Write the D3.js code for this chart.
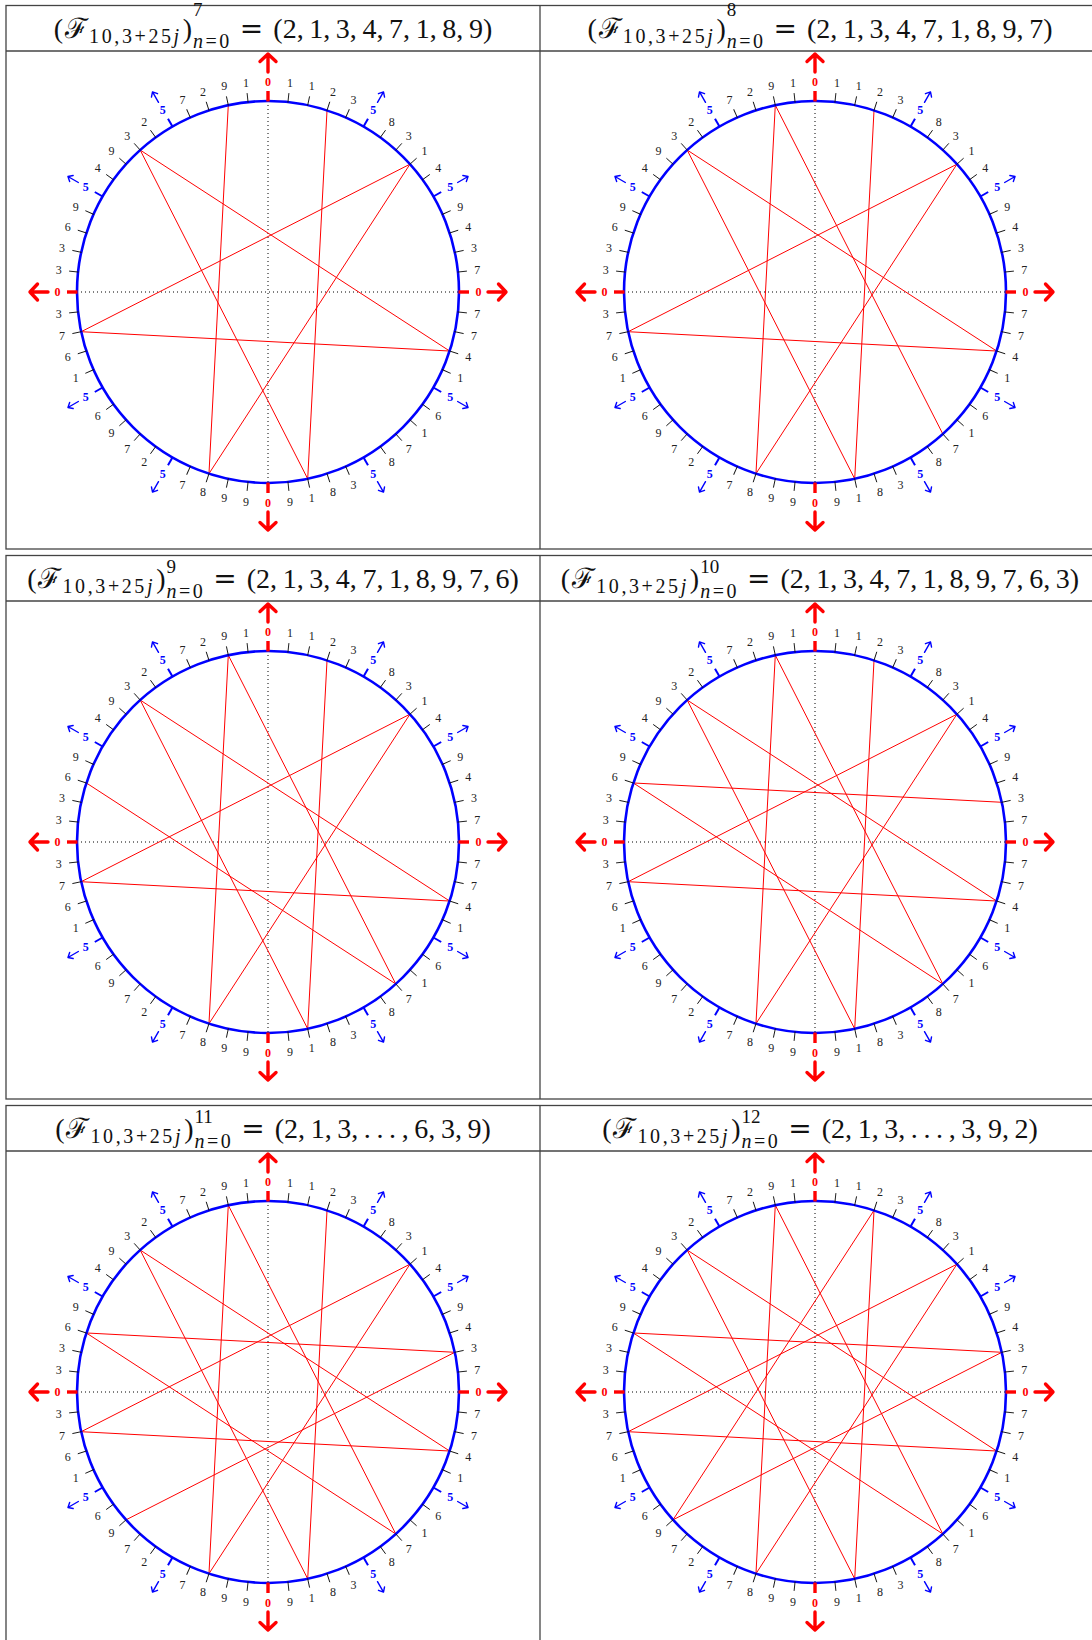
<!DOCTYPE html>
<html>
<head>
<meta charset="utf-8">
<script src="https://cdn.jsdelivr.net/npm/d3@7"></script>
<style>
  body { margin: 0; background: #fff; }
  svg { display: block; }
</style>
</head>
<body>
<div id="chart"></div>
<script>
// Fibonacci numbers mod 10 over one Pisano period (60), clockwise from the top
const tickLabels = [0, 1, 1, 2, 3, 5, 8, 3, 1, 4, 5, 9, 4, 3, 7, 0, 7, 7, 4, 1,
                    5, 6, 1, 7, 8, 5, 3, 8, 1, 9, 0, 9, 9, 8, 7, 5, 2, 7, 9, 6,
                    5, 1, 6, 7, 3, 0, 3, 3, 6, 9, 5, 4, 9, 3, 2, 5, 7, 2, 9, 1];
// positions 3 + 25j (mod 60) visited for j = 0..12
const walkIndex = [3, 28, 53, 18, 43, 8, 33, 58, 23, 48, 13, 38, 3];
// upper bound n of each panel
const panelN = [7, 8, 9, 10, 11, 12];
// right hand side of each title
const panelValues = [
    "(2,\u20091,\u20093,\u20094,\u20097,\u20091,\u20098,\u20099)",
    "(2,\u20091,\u20093,\u20094,\u20097,\u20091,\u20098,\u20099,\u20097)",
    "(2,\u20091,\u20093,\u20094,\u20097,\u20091,\u20098,\u20099,\u20097,\u20096)",
    "(2,\u20091,\u20093,\u20094,\u20097,\u20091,\u20098,\u20099,\u20097,\u20096,\u20093)",
    "(2,\u20091,\u20093,\u2009.\u2009.\u2009.\u2009,\u20096,\u20093,\u20099)",
    "(2,\u20091,\u20093,\u2009.\u2009.\u2009.\u2009,\u20093,\u20099,\u20092)"
];

const W = 1092, H = 1640;
const colX = [6, 540, 1100];
const rowTop0 = 5.5, rowStep = 550, titleH = 45.5, panelH = 498;
const R = 191;
const serif = "'Liberation Serif', 'DejaVu Serif', serif";

const svg = d3.select("#chart").append("svg")
    .attr("width", W)
    .attr("height", H);

// angle of every position on the circle (0 at the top, clockwise)
const angle = d3.scaleLinear()
    .domain([0, tickLabels.length])
    .range([0, 2 * Math.PI]);

// table frame, one box per row
for (let r = 0; r < 3; r++) {
    const top = rowTop0 + r * rowStep;
    const box = svg.append("g")
        .attr("fill", "none")
        .attr("stroke", "#444")
        .attr("stroke-width", 1.3);
    box.append("rect")
        .attr("x", colX[0]).attr("y", top)
        .attr("width", colX[2] - colX[0]).attr("height", titleH + panelH);
    box.append("line")
        .attr("x1", colX[0]).attr("x2", colX[2])
        .attr("y1", top + titleH).attr("y2", top + titleH);
    box.append("line")
        .attr("x1", colX[1]).attr("x2", colX[1])
        .attr("y1", top).attr("y2", top + titleH + panelH);
}

// title: (F_{10,3+25j})^{n}_{n=0} = (...)
function drawTitle(cx, baseline, n, values, supDy) {
    const g = svg.append("g").attr("font-family", serif).attr("fill", "#111");
    let x = 0;
    const piece = (parts, size, dy, ls) => {
        const t = g.append("text").attr("x", x).attr("y", baseline + dy)
            .attr("font-size", size)
            .attr("letter-spacing", ls || null);
        parts.forEach(p => t.append("tspan")
            .attr("font-style", p.it ? "italic" : null)
            .attr("font-family", p.ff || null)
            .text(p.s));
        return t.node().getComputedTextLength();
    };
    x += piece([{ s: "(" }], 28, 0) + 2;
    x += piece([{ s: "\u2131", ff: "'DejaVu Serif', serif" }], 28, 0) + 1;
    x += piece([{ s: "10,3+25" }, { s: "j", it: true }], 20, 5.5, 2.6) + 1;
    x += piece([{ s: ")" }], 28, 0) + 1;
    const w1 = piece([{ s: String(n) }], 19, supDy);
    const w2 = piece([{ s: "n", it: true }, { s: "=0" }], 20, 10, 2.5);
    x += Math.max(w1, w2) + 8;
    x += piece([{ s: "=", ff: "'DejaVu Serif', serif" }], 28, 0) + 10;
    x += piece([{ s: values }], 28, 0);
    g.attr("transform", `translate(${cx - x / 2},0)`);
}

// radial arrow pointing outward, drawn upward and rotated into place
function arrowPath(r1, r2, hw, hl) {
    return `M0,${-r1}L0,${-r2}M${-hw},${-r2 + hl}L0,${-r2}L${hw},${-r2 + hl}`;
}

panelN.forEach((n, i) => {
    const row = Math.floor(i / 2), col = i % 2;
    const top = rowTop0 + row * rowStep;
    const cellMid = (colX[col] + colX[col + 1]) / 2;
    drawTitle(cellMid, top + 32, n, panelValues[i], row === 0 ? -22 : -15);

    const cx = cellMid - 5, cy = top + titleH + 241;
    const g = svg.append("g").attr("transform", `translate(${cx},${cy})`);

    // dotted axes
    g.append("g")
        .attr("stroke", "#000")
        .attr("stroke-width", 1)
        .attr("stroke-dasharray", "1,3")
        .selectAll("line")
        .data([[0, -R, 0, R], [-R, 0, R, 0]])
        .join("line")
        .attr("x1", d => d[0]).attr("y1", d => d[1])
        .attr("x2", d => d[2]).attr("y2", d => d[3]);

    // chords of the walk
    const chord = d3.lineRadial()
        .angle(d => angle(d))
        .radius(R);
    g.append("path")
        .datum(walkIndex.slice(0, n + 1))
        .attr("fill", "none")
        .attr("stroke", "#ff0000")
        .attr("stroke-width", 1)
        .attr("d", chord);

    // circle
    g.append("circle")
        .attr("r", R)
        .attr("fill", "none")
        .attr("stroke", "#0000ff")
        .attr("stroke-width", 2.6);

    const idx = d3.range(tickLabels.length);
    const deg = k => angle(k) * 180 / Math.PI;

    // ticks
    g.append("g").selectAll("line")
        .data(idx)
        .join("line")
        .attr("transform", k => `rotate(${deg(k)})`)
        .attr("x1", 0).attr("x2", 0)
        .attr("y1", -R + 0.5)
        .attr("y2", k => tickLabels[k] === 0 ? -R - 10 : -R - 9)
        .attr("stroke", k => tickLabels[k] === 0 ? "#ff0000" : tickLabels[k] === 5 ? "#0000ff" : "#111")
        .attr("stroke-width", k => tickLabels[k] === 0 ? 3.4 : tickLabels[k] === 5 ? 2 : 0.9);

    // arrows at 0 and 5
    g.append("g").selectAll("path")
        .data(idx.filter(k => tickLabels[k] === 0 || tickLabels[k] === 5))
        .join("path")
        .attr("transform", k => `rotate(${deg(k)})`)
        .attr("fill", "none")
        .attr("stroke-linejoin", "round")
        .attr("stroke-linecap", "round")
        .attr("stroke", k => tickLabels[k] === 0 ? "#ff0000" : "#0000ff")
        .attr("stroke-width", k => tickLabels[k] === 0 ? 3.4 : 1.4)
        .attr("d", k => tickLabels[k] === 0 ? arrowPath(220, 238, 8, 7.5) : arrowPath(219, 231, 3.5, 4));

    // labels
    g.append("g").selectAll("text")
        .data(idx)
        .join("text")
        .attr("x", k => d3.pointRadial(angle(k), 210.5)[0])
        .attr("y", k => d3.pointRadial(angle(k), 210.5)[1])
        .attr("dy", "0.35em")
        .attr("text-anchor", "middle")
        .attr("font-family", serif)
        .attr("font-size", 12)
        .attr("font-weight", k => tickLabels[k] === 0 || tickLabels[k] === 5 ? "bold" : null)
        .attr("fill", k => tickLabels[k] === 0 ? "#ff0000" : tickLabels[k] === 5 ? "#0000ff" : "#222")
        .text(k => tickLabels[k]);
});
</script>
</body>
</html>
